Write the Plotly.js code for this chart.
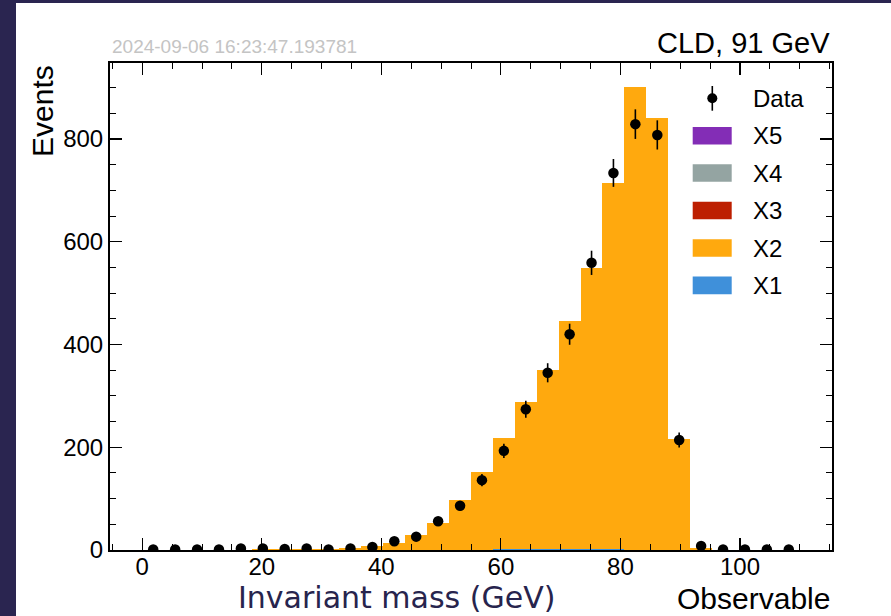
<!DOCTYPE html>
<html>
<head>
<meta charset="utf-8">
<script src="https://cdn.plot.ly/plotly-3.0.1.min.js"></script>
<style>
  html, body { margin: 0; padding: 0; background: #2a2550; width: 891px; height: 616px; overflow: hidden; }
  #chart { position: absolute; left: 16px; top: 3px; width: 875px; height: 613px; background: #ffffff; }
</style>
</head>
<body>
<div id="chart"></div>
<script>
// ---- data (30 bins, 0..110 GeV) ----
const binCenters = [1.83, 5.5, 9.17, 12.83, 16.5, 20.17, 23.83, 27.5, 31.17, 34.83,
                    38.5, 42.17, 45.83, 49.5, 53.17, 56.83, 60.5, 64.17, 67.83, 71.5,
                    75.17, 78.83, 82.5, 86.17, 89.83, 93.5, 97.17, 100.83, 104.5, 108.17];
const binWidth = 3.667;
const x1Values = [0, 0, 0, 0, 0, 0, 0, 0, 0, 0,
                  0, 0, 0, 0, 0, 0, 1, 2, 2, 2,
                  2, 1, 0, 0, 0, 0, 0, 0, 0, 0];
const x2Values = [0.5, 0.5, 0.5, 0.5, 0.8, 1, 1, 1.5, 2, 3.5,
                  7, 13, 29, 53, 97, 151, 218, 286, 348, 444,
                  547, 713, 902, 841, 216, 3, 0.5, 0.3, 0.2, 0.1];
const x3Values = [0, 0, 0, 0, 0, 0, 0, 0, 0, 0, 0, 0, 0, 0, 0, 0, 0, 0, 0, 0, 0, 0, 0, 0, 0, 0, 0, 0, 0, 0];
const x4Values = [0, 0, 0, 0, 0, 0, 0, 0, 0, 0, 0, 0, 0, 0, 0, 0, 0, 0, 0, 0, 0, 0, 0, 0, 0, 0, 0, 0, 0, 0];
const x5Values = [0, 0, 0, 0, 0, 0, 0, 0, 0, 0, 0, 0, 0, 0, 0, 0, 0, 0, 0, 0, 0, 0, 0, 0, 0, 0, 0, 0, 0, 0];
const dataValues = [1, 1, 1, 1, 3, 3, 2, 3, 1, 3,
                    6, 17, 26, 56, 86, 136, 193, 274, 345, 420,
                    559, 734, 829, 808, 214, 8, 1, 1, 1, 1];
const dataErrors = [1, 1, 1, 1, 1.7, 1.7, 1.4, 1.7, 1, 1.7,
                    2.4, 4.1, 5.1, 7.5, 9.3, 11.7, 13.9, 16.6, 18.6, 20.5,
                    23.6, 27.1, 28.8, 28.4, 14.6, 2.8, 1, 1, 1, 1];
const seriesNames = ["X1", "X2", "X3", "X4", "X5"];
const seriesColors = ["#3f90da", "#ffa90e", "#bd1f01", "#94a4a2", "#832db6"];
const xTickVals = [0, 20, 40, 60, 80, 100];
const yTickVals = [0, 200, 400, 600, 800];

const stackValues = [x1Values, x2Values, x3Values, x4Values, x5Values];
const traces = stackValues.map((vals, i) => ({
  type: "bar", x: binCenters, y: vals, width: binWidth, name: seriesNames[i],
  marker: { color: seriesColors[i], line: { width: 0 } }, showlegend: false, hoverinfo: "skip"
}));
traces.push({
  type: "scatter", mode: "markers", x: binCenters, y: dataValues, name: "Data",
  marker: { color: "#000000", size: 10.5 },
  error_y: { type: "data", array: dataErrors, visible: true, color: "#000000", thickness: 1.6, width: 0 },
  showlegend: false
});

// plot-area geometry in page pixels (for overlay texts / legend)
const PX0 = 110, PX1 = 832, PYT = 63, PYB = 550;
const px = v => (v - PX0) / (PX1 - PX0);
const py = v => (PYB - v) / (PYB - PYT);

const fontMain = "Liberation Sans, Arial, Helvetica, sans-serif";
const shapes = [];
const annotations = [];

// legend: Data first, then X5..X1
const legendRowsY = [98.3, 135.7, 173, 210.5, 248, 285.4];
shapes.push({ type: "line", xref: "paper", yref: "paper",
  x0: px(712.3), x1: px(712.3), y0: py(110.7), y1: py(86), line: { color: "#000", width: 1.6 } });
shapes.push({ type: "circle", xref: "paper", yref: "paper", fillcolor: "#000", line: { width: 0 },
  x0: px(712.3 - 5), x1: px(712.3 + 5), y0: py(98.3 + 5), y1: py(98.3 - 5) });
annotations.push({ xref: "paper", yref: "paper", x: px(751), y: py(legendRowsY[0]), text: "Data",
  showarrow: false, xanchor: "left", yanchor: "middle", font: { family: fontMain, size: 24, color: "#000" } });
for (let k = 0; k < 5; k++) {
  const idx = 4 - k;
  const cy = legendRowsY[k + 1];
  shapes.push({ type: "rect", xref: "paper", yref: "paper", fillcolor: seriesColors[idx], line: { width: 0 },
    x0: px(692.7), x1: px(731.7), y0: py(cy + 8.8), y1: py(cy - 8.8) });
  annotations.push({ xref: "paper", yref: "paper", x: px(751), y: py(cy), text: seriesNames[idx],
    showarrow: false, xanchor: "left", yanchor: "middle", font: { family: fontMain, size: 24, color: "#000" } });
}

// texts
annotations.push({ xref: "paper", yref: "paper", x: px(110), y: py(46.7), text: "2024-09-06 16:23:47.193781",
  showarrow: false, xanchor: "left", yanchor: "middle", font: { family: fontMain, size: 19, color: "#c4c4c4" } });
annotations.push({ xref: "paper", yref: "paper", x: px(832), y: py(43), text: "CLD, 91 GeV",
  showarrow: false, xanchor: "right", yanchor: "middle", font: { family: fontMain, size: 29, color: "#000" } });
annotations.push({ xref: "paper", yref: "paper", x: px(42), y: py(111), text: "Events", textangle: -90,
  showarrow: false, xanchor: "center", yanchor: "middle", font: { family: fontMain, size: 30, color: "#000" } });
annotations.push({ xref: "paper", yref: "paper", x: px(832), y: py(598), text: "Observable",
  showarrow: false, xanchor: "right", yanchor: "middle", font: { family: fontMain, size: 30, color: "#000" } });
annotations.push({ xref: "paper", yref: "paper", x: px(396), y: py(597), text: "Invariant mass (GeV)",
  showarrow: false, xanchor: "center", yanchor: "middle", font: { family: "DejaVu Sans, sans-serif", size: 30, color: "#27244d" } });

const axisCommon = {
  showline: true, linecolor: "#000", linewidth: 2, mirror: "allticks",
  ticks: "inside", ticklen: 12, tickwidth: 1.2, tickcolor: "#000",
  showgrid: false, zeroline: false,
  tickfont: { family: fontMain, size: 24, color: "#000" }
};

const layout = {
  width: 875, height: 613,
  margin: { l: 94, r: 59, t: 60, b: 66, pad: 0 },
  paper_bgcolor: "#ffffff", plot_bgcolor: "#ffffff",
  barmode: "stack", bargap: 0, showlegend: false,
  xaxis: Object.assign({}, axisCommon, {
    range: [-5.4, 115.4], tickmode: "array", tickvals: xTickVals, ticktext: xTickVals.map(String),
    ticklabelstandoff: -6,
    minor: { dtick: 5, tick0: 0, ticks: "inside", ticklen: 6, tickwidth: 1, tickcolor: "#000" }
  }),
  yaxis: Object.assign({}, axisCommon, {
    range: [0, 948], tickmode: "array", tickvals: yTickVals, ticktext: yTickVals.map(String),
    minor: { dtick: 50, tick0: 0, ticks: "inside", ticklen: 6, tickwidth: 1, tickcolor: "#000" }
  }),
  shapes: shapes, annotations: annotations
};

Plotly.newPlot("chart", traces, layout, { staticPlot: true, displayModeBar: false });
</script>
</body>
</html>
